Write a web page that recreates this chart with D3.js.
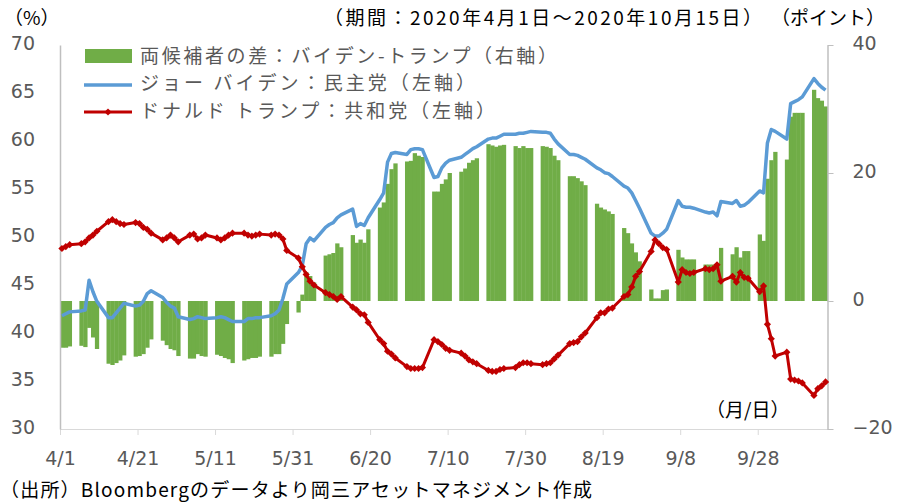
<!DOCTYPE html>
<html>
<head>
<meta charset="utf-8">
<script src="https://cdn.jsdelivr.net/npm/d3@7"></script>
<style>
  body { margin: 0; background: #fff; }
  svg { display: block; }
  .num { font-family: "DejaVu Sans", Verdana, sans-serif; font-size: 19px; fill: #595959; }
  .jp { font-family: "Noto Sans CJK JP", sans-serif; font-size: 19px; }
</style>
</head>
<body>
<svg id="chart" width="902" height="502"></svg>
<script>
// weekday dates, 2020
const dates = [
  "4/1","4/2","4/3",
  "4/6","4/7","4/8","4/9","4/10",
  "4/13","4/14","4/15","4/16","4/17",
  "4/20","4/21","4/22","4/23","4/24",
  "4/27","4/28","4/29","4/30","5/1",
  "5/4","5/5","5/6","5/7","5/8",
  "5/11","5/12","5/13","5/14","5/15",
  "5/18","5/19","5/20","5/21","5/22",
  "5/25","5/26","5/27","5/28","5/29",
  "6/1","6/2","6/3","6/4","6/5",
  "6/8","6/9","6/10","6/11","6/12",
  "6/15","6/16","6/17","6/18","6/19",
  "6/22","6/23","6/24","6/25","6/26",
  "6/29","6/30","7/1","7/2","7/3",
  "7/6","7/7","7/8","7/9","7/10",
  "7/13","7/14","7/15","7/16","7/17",
  "7/20","7/21","7/22","7/23","7/24",
  "7/27","7/28","7/29","7/30","7/31",
  "8/3","8/4","8/5","8/6","8/7",
  "8/10","8/11","8/12","8/13","8/14",
  "8/17","8/18","8/19","8/20","8/21",
  "8/24","8/25","8/26","8/27","8/28",
  "8/31","9/1","9/2","9/3","9/4",
  "9/7","9/8","9/9","9/10","9/11",
  "9/14","9/15","9/16","9/17","9/18",
  "9/21","9/22","9/23","9/24","9/25",
  "9/28","9/29","9/30","10/1","10/2",
  "10/5","10/6","10/7","10/8","10/9",
  "10/12","10/13","10/14","10/15"
];

// Biden (left axis, %)
const biden = [
  41.8,42.0,42.2,
  42.3,42.4,45.5,44.3,43.3,
  41.6,41.6,42.1,42.6,43.1,
  42.8,42.9,43.3,44.1,44.4,
  43.7,43.2,42.8,42.6,41.7,
  41.4,41.5,41.7,41.6,41.5,
  41.6,41.7,41.6,41.4,41.2,
  41.2,41.5,41.5,41.6,41.6,
  41.8,42.0,42.4,43.6,45.1,
  46.3,47.0,49.3,49.9,49.6,
  51.0,51.3,51.5,52.0,52.3,
  52.9,51.1,51.4,51.2,52.0,
  53.9,54.6,57.8,58.7,58.8,
  58.6,59.1,59.2,59.2,59.1,
  56.2,56.3,57.2,57.7,58.0,
  58.3,58.6,58.9,59.2,59.4,
  60.2,60.3,60.3,60.5,60.7,
  60.7,60.8,60.8,60.9,61.0,
  60.9,60.9,60.8,60.2,59.7,
  58.6,58.6,58.5,58.3,58.1,
  57.2,57.0,56.7,56.6,56.3,
  55.3,55.1,54.6,53.8,53.0,
  50.4,50.1,50.1,50.4,50.8,
  53.8,53.2,53.1,53.1,53.0,
  52.6,52.5,52.6,52.2,53.7,
  53.5,53.8,53.2,53.3,53.6,
  54.8,54.6,59.8,61.2,61.0,
  60.2,63.9,64.1,64.3,64.6,
  66.5,66.0,65.6,65.3
];

// Trump (left axis, %)
const trump = [
  48.8,49.0,49.2,
  49.3,49.5,49.9,50.2,50.6,
  51.6,51.8,51.6,51.4,51.3,
  51.5,51.4,51.0,50.8,50.4,
  49.7,49.9,50.2,49.9,49.5,
  50.2,50.3,49.8,49.9,50.2,
  49.9,49.7,49.9,50.2,50.4,
  50.4,50.2,50.1,50.2,50.3,
  50.2,50.3,50.2,49.8,48.6,
  47.8,46.9,46.1,45.4,45.0,
  44.2,44.0,43.8,43.5,43.8,
  42.7,42.4,42.0,41.9,41.1,
  39.3,38.9,38.1,37.8,37.4,
  36.5,36.3,36.3,36.3,36.4,
  39.3,39.1,38.8,38.4,38.2,
  37.9,37.6,37.2,37.0,36.8,
  36.1,36.0,36.0,36.2,36.3,
  36.4,36.7,36.9,36.9,36.8,
  36.7,36.8,36.9,37.3,37.7,
  38.9,39.0,39.1,39.6,40.0,
  41.6,42.1,42.1,42.5,42.6,
  43.8,44.0,44.8,45.9,46.4,
  48.5,49.7,49.3,48.9,48.7,
  45.3,46.6,46.3,46.2,46.3,
  46.7,46.6,46.7,47.1,45.4,
  45.9,45.3,46.3,45.8,45.7,
  44.3,44.9,40.9,39.4,37.6,
  38.0,35.2,35.1,35.0,34.8,
  33.5,34.2,34.5,34.9
];

// spread Biden - Trump (right axis, points)
const spread = [
  -7.3,-7.3,-7.1,
  -7.0,-7.2,-4.2,-5.7,-7.5,
  -9.8,-10.0,-9.7,-9.3,-8.5,
  -8.7,-8.6,-8.3,-7.3,-6.0,
  -6.2,-6.9,-7.5,-7.7,-8.6,
  -9.0,-9.0,-8.3,-8.6,-8.7,
  -8.4,-8.6,-8.9,-9.1,-9.7,
  -9.3,-9.1,-8.9,-8.9,-8.7,
  -8.7,-8.3,-8.3,-6.7,-3.6,
  -1.8,1.0,4.5,3.9,2.9,
  7.1,7.3,7.5,9.0,8.4,
  10.3,9.1,9.6,9.1,11.2,
  14.6,15.4,18.3,20.6,21.5,
  21.8,21.9,23.1,22.7,22.5,
  17.1,17.1,18.3,19.0,20.0,
  20.2,20.7,21.6,22.0,22.3,
  24.5,24.3,24.1,24.3,24.4,
  24.2,23.9,24.2,23.9,23.9,
  24.2,24.1,23.9,22.7,22.0,
  19.5,19.5,19.2,18.7,18.1,
  15.2,14.6,14.3,14.0,13.6,
  11.4,10.6,9.0,7.6,6.2,
  1.8,0.4,0.4,1.7,1.8,
  8.0,6.8,6.5,6.5,6.5,
  5.7,5.7,5.7,5.7,8.3,
  7.3,8.4,6.8,7.8,7.8,
  10.4,9.4,19.1,22.0,23.3,
  22.1,28.8,29.4,29.4,29.4,
  33.0,31.7,31.3,30.4
];

const xTickLabels = ["4/1","4/21","5/11","5/31","6/20","7/10","7/30","8/19","9/8","9/28"];
const leftTicks = [30,35,40,45,50,55,60,65,70];
const rightTicks = [-20,0,20,40];
const legendLabels = [
  "両候補者の差：バイデン-トランプ（右軸）",
  "ジョー バイデン：民主党（左軸）",
  "ドナルド トランプ：共和党（左軸）"
];

const svg = d3.select("#chart");
const parse = d3.utcParse("%Y/%m/%d");
const toDate = s => parse("2020/" + s);
const DAY = 864e5;

const plotL = 60, plotR = 827.5, plotT = 45, plotB = 429;

const x = d3.scaleUtc()
  .domain([toDate("4/1"), toDate("10/16")])
  .range([plotL, plotR]);
const yL = d3.scaleLinear().domain([30, 70]).range([plotB, plotT]);
const yR = d3.scaleLinear().domain([-20, 40]).range([plotB, plotT]);

const rows = dates.map((s, i) => ({
  date: toDate(s), biden: biden[i], trump: trump[i], spread: spread[i]
}));
const slot = x(new Date(+toDate("4/1") + DAY)) - x(toDate("4/1"));
const cx = d => x(d.date) + slot / 2;

// bars
svg.append("g")
  .selectAll("rect")
  .data(rows)
  .join("rect")
  .attr("x", d => x(d.date))
  .attr("width", slot + 0.4)
  .attr("y", d => Math.min(yR(d.spread), yR(0)))
  .attr("height", d => Math.abs(yR(d.spread) - yR(0)))
  .attr("fill", "#70ad47");

// axes
const gx = svg.append("g")
  .attr("transform", `translate(0,${plotB})`)
  .call(d3.axisBottom(x)
    .tickValues(xTickLabels.map(toDate))
    .tickFormat((d, i) => xTickLabels[i])
    .tickSize(6).tickSizeOuter(0).tickPadding(17));
gx.select(".domain").attr("stroke", "#d9d9d9");
gx.selectAll(".tick line").attr("stroke", "#d9d9d9");
gx.selectAll("text").attr("class", "num").attr("fill", null);

const gl = svg.append("g")
  .attr("transform", `translate(${plotL},0)`)
  .call(d3.axisLeft(yL).tickValues(leftTicks).tickSize(0).tickSizeOuter(0).tickPadding(25));
gl.select(".domain").attr("stroke", "#bfbfbf").attr("stroke-width", 1.5);
gl.selectAll("text").attr("class", "num").attr("fill", null).attr("dy", "0.25em");

const gr = svg.append("g")
  .attr("transform", `translate(${plotR},0)`)
  .call(d3.axisRight(yR).tickValues(rightTicks).tickSize(6).tickSizeOuter(0).tickPadding(19));
gr.select(".domain").attr("stroke", "#bfbfbf").attr("stroke-width", 1.5);
gr.selectAll(".tick line").attr("stroke", "#bfbfbf");
gr.selectAll("text").attr("class", "num").attr("fill", null).attr("dy", "0.25em");

// lines
const blueLine = d3.line().x(cx).y(d => yL(d.biden));
const redLine = d3.line().x(cx).y(d => yL(d.trump));

svg.append("path")
  .datum(rows)
  .attr("d", blueLine)
  .attr("fill", "none")
  .attr("stroke", "#5b9bd5")
  .attr("stroke-width", 3.5)
  .attr("stroke-linejoin", "round");

svg.append("path")
  .datum(rows)
  .attr("d", redLine)
  .attr("fill", "none")
  .attr("stroke", "#c00000")
  .attr("stroke-width", 3)
  .attr("stroke-linejoin", "round");

const diamond = "M0,-3.6L3.6,0L0,3.6L-3.6,0Z";
svg.append("g")
  .selectAll("path")
  .data(rows)
  .join("path")
  .attr("transform", d => `translate(${cx(d)},${yL(d.trump)})`)
  .attr("d", diamond)
  .attr("fill", "#c00000");

// legend
const lg = svg.append("g");
lg.append("rect").attr("x", 85).attr("y", 49).attr("width", 47).attr("height", 14).attr("fill", "#70ad47");
lg.append("line").attr("x1", 84).attr("x2", 132).attr("y1", 85).attr("y2", 85)
  .attr("stroke", "#5b9bd5").attr("stroke-width", 3.5);
lg.append("line").attr("x1", 84).attr("x2", 132).attr("y1", 112).attr("y2", 112)
  .attr("stroke", "#c00000").attr("stroke-width", 3);
lg.append("path").attr("transform", "translate(108,112)").attr("d", diamond).attr("fill", "#c00000");
const legendW = [417, 335, 355];
legendLabels.forEach((t, i) => {
  lg.append("text")
    .attr("class", "jp")
    .attr("x", 140).attr("y", 56 + i * 27.5)
    .attr("dy", "0.35em")
    .attr("fill", "#595959")
    .attr("textLength", legendW[i])
    .text(t);
});

// titles and notes
const note = (t, xx, yy, w, color) => {
  const el = svg.append("text")
    .attr("class", "jp")
    .attr("x", xx).attr("y", yy).attr("dy", "0.35em")
    .attr("fill", color)
    .text(t);
  if (w) el.attr("textLength", w);
  return el;
};

note("（%）", 4, 18, 0, "#000");
note("（期間：2020年4月1日～2020年10月15日）", 324, 18, 438, "#000");
note("（ポイント）", 771, 18, 0, "#000");
note("（月/日）", 706, 410, 0, "#000");
note("（出所）Bloombergのデータより岡三アセットマネジメント作成", 0, 490, 592, "#000");
</script>
</body>
</html>
